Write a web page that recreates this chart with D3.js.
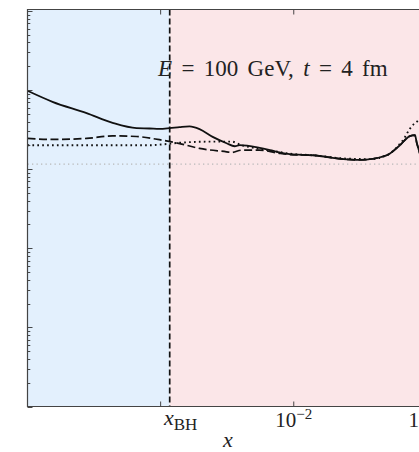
<!DOCTYPE html>
<html>
<head>
<meta charset="utf-8">
<script src="https://cdn.jsdelivr.net/npm/d3@7"></script>
<style>
  html, body { margin: 0; padding: 0; background: #fff; }
  svg { display: block; }
  text { font-family: "Liberation Serif", "DejaVu Serif", serif; fill: #222; }
</style>
</head>
<body>
<svg id="chart" width="419" height="452"></svg>
<script>
// Momentum fraction x (log) and distribution value (log) for each curve
const solidX = [1.0e-4, 1.54e-4, 2.78e-4, 4.36e-4, 6.6e-4, 8.26e-4, 9.8e-4, 1.17e-3, 1.39e-3, 1.65e-3, 1.96e-3, 2.46e-3, 3.13e-3, 3.6e-3, 3.93e-3, 5.55e-3, 7.45e-3, 9.33e-3, 1.39e-2, 2.50e-2, 3.13e-2, 5.0e-2, 6.27e-2, 7.45e-2, 8.13e-2, 8.41e-2, 8.71e-2, 9.33e-2];
const solidY = [9.8, 7.11, 5.12, 3.85, 3.30, 3.27, 3.23, 3.30, 3.40, 3.47, 3.21, 2.56, 2.13, 1.95, 2.01, 1.86, 1.66, 1.55, 1.50, 1.33, 1.31, 1.50, 2.01, 2.62, 2.69, 2.13, 1.74, 1.12];

const dashedX = [1.0e-4, 1.54e-4, 2.78e-4, 4.36e-4, 6.6e-4, 9.8e-4, 1.39e-3, 1.96e-3, 3.13e-3, 3.42e-3, 4.06e-3, 5.55e-3, 7.45e-3, 9.33e-3, 1.39e-2, 2.50e-2, 3.13e-2, 5.0e-2, 6.27e-2, 7.45e-2, 8.13e-2, 8.41e-2, 8.71e-2, 9.33e-2];
const dashedY = [2.45, 2.38, 2.45, 2.64, 2.59, 2.36, 2.11, 1.83, 1.66, 1.63, 1.74, 1.74, 1.61, 1.53, 1.50, 1.33, 1.31, 1.50, 2.01, 2.62, 2.69, 2.13, 1.74, 1.12];

const dottedX = [1.0e-4, 8.26e-4, 1.07e-3, 1.39e-3, 2.33e-3, 3.42e-3, 4.06e-3, 5.09e-3, 7.19e-3, 9.33e-3, 1.39e-2, 2.50e-2, 3.72e-2, 5.0e-2, 6.05e-2, 6.84e-2, 7.33e-2, 7.98e-2, 8.71e-2, 9.67e-2];
const dottedY = [2.01, 2.01, 2.07, 2.16, 2.23, 2.23, 2.01, 1.85, 1.69, 1.57, 1.50, 1.36, 1.34, 1.50, 1.95, 2.54, 3.12, 3.71, 4.17, 4.83];

// Reference level (grey dotted) and the black-hole boundary
const referenceLevel = 1.16;
const xBH = 1.17e-3;

// Axis ticks
const xMajorTicks = [1e-4, 1e-3, 1e-2, 1e-1];
const xTickLabels = [
  { value: 1e-2, base: "10", exp: "−2" },
  { value: 1e-1, base: "10", exp: "−1" }
];
const yDecades = [1e-3, 1e-2, 1e-1, 1, 10, 100];

// Annotation pieces (math symbols in italics)
const annotationTokens = [
  { s: "E", italic: true }, { s: " = 100 GeV, " },
  { s: "t", italic: true }, { s: " = 4 fm" }
];
const xAxisTitle = "x";

const svg = d3.select("#chart");
const W = 419, H = 452;
const plot = { left: 27.5, top: 9.5, bottom: 406.5, right: 560 };

const x = d3.scaleLog().domain([1e-4, 1]).range([plot.left, plot.right]);
const y = d3.scaleLog().domain([1e-3, 100]).range([406.5, 11]);

svg.append("rect").attr("width", W).attr("height", H).attr("fill", "#fff");

// Clip region for the plotting area
svg.append("clipPath").attr("id", "plotClip")
  .append("rect")
  .attr("x", plot.left).attr("y", plot.top)
  .attr("width", plot.right - plot.left).attr("height", plot.bottom - plot.top);

const g = svg.append("g").attr("clip-path", "url(#plotClip)");

// Shaded regions: below and above x_BH
g.append("rect")
  .attr("x", plot.left).attr("y", plot.top)
  .attr("width", x(xBH) - plot.left).attr("height", plot.bottom - plot.top)
  .attr("fill", "#e3f0fd");
g.append("rect")
  .attr("x", x(xBH)).attr("y", plot.top)
  .attr("width", plot.right - x(xBH)).attr("height", plot.bottom - plot.top)
  .attr("fill", "#fbe6e8");

// Grey reference line
g.append("line")
  .attr("x1", plot.left).attr("x2", plot.right)
  .attr("y1", y(referenceLevel)).attr("y2", y(referenceLevel))
  .attr("stroke", "#b8b8b8").attr("stroke-width", 1.3)
  .attr("stroke-dasharray", "1.3,3.2");

const line = d3.line()
  .x(d => x(d[0])).y(d => y(d[1]))
  .curve(d3.curveMonotoneX);

function series(xs, ys) { return xs.map((v, i) => [v, ys[i]]); }

g.append("path").datum(series(dottedX, dottedY))
  .attr("d", line).attr("fill", "none")
  .attr("stroke", "#111").attr("stroke-width", 1.9)
  .attr("stroke-dasharray", "1.7,3.2");

g.append("path").datum(series(dashedX, dashedY))
  .attr("d", line).attr("fill", "none")
  .attr("stroke", "#111").attr("stroke-width", 1.7)
  .attr("stroke-dasharray", "8,3.5");

g.append("path").datum(series(solidX, solidY))
  .attr("d", line).attr("fill", "none")
  .attr("stroke", "#111").attr("stroke-width", 1.8);

// Vertical dashed line at x_BH
g.append("line")
  .attr("x1", x(xBH)).attr("x2", x(xBH))
  .attr("y1", plot.top).attr("y2", plot.bottom)
  .attr("stroke", "#111").attr("stroke-width", 1.7)
  .attr("stroke-dasharray", "6,3");

// Inward ticks on the y axis (log, with minor ticks)
const yTicks = [];
yDecades.forEach(d => {
  for (let k = 1; k <= 9; k++) {
    const v = d * k;
    if (v <= 100) yTicks.push({ v, major: k === 1 });
  }
});
svg.append("g").selectAll("line").data(yTicks).join("line")
  .attr("x1", plot.left).attr("x2", d => plot.left + (d.major ? 5 : 2.8))
  .attr("y1", d => Math.round(y(d.v)) + 0.5).attr("y2", d => Math.round(y(d.v)) + 0.5)
  .attr("stroke", "#333").attr("stroke-width", 0.9);

// Inward ticks on bottom and top x axes
const xt = svg.append("g");
xt.selectAll(".bt").data(xMajorTicks).join("line")
  .attr("x1", d => x(d)).attr("x2", d => x(d))
  .attr("y1", plot.bottom).attr("y2", plot.bottom - 5)
  .attr("stroke", "#333").attr("stroke-width", 0.9);
xt.selectAll(".tt").data(xMajorTicks).join("line")
  .attr("x1", d => x(d)).attr("x2", d => x(d))
  .attr("y1", plot.top).attr("y2", plot.top + 5)
  .attr("stroke", "#333").attr("stroke-width", 0.9);

// Spines
svg.append("path")
  .attr("d", `M${W},${plot.top}H${plot.left}V${plot.bottom}H${W}`)
  .attr("fill", "none").attr("stroke", "#444").attr("stroke-width", 1.2);

// Tick labels
xTickLabels.forEach(t => {
  const tx = svg.append("text")
    .attr("x", x(t.value)).attr("y", 427)
    .attr("text-anchor", "middle").attr("font-size", 21);
  tx.append("tspan").text(t.base);
  tx.append("tspan").attr("dy", -8).attr("font-size", 15).text(t.exp);
});

// x_BH label
const bh = svg.append("text").attr("x", 164).attr("y", 425).attr("font-size", 22);
bh.append("tspan").attr("font-style", "italic").text("x");
bh.append("tspan").attr("dy", 5).attr("font-size", 17).text("BH");

// Axis title
svg.append("text").attr("x", 228).attr("y", 447)
  .attr("text-anchor", "middle").attr("font-size", 22)
  .attr("font-style", "italic").text(xAxisTitle);

// Annotation
const ann = svg.append("text").attr("x", 158).attr("y", 76)
  .attr("font-size", 23).attr("word-spacing", 3.6)
  .style("white-space", "pre");
annotationTokens.forEach(tk => {
  ann.append("tspan")
    .attr("font-style", tk.italic ? "italic" : null)
    .text(tk.s);
});
</script>
</body>
</html>
